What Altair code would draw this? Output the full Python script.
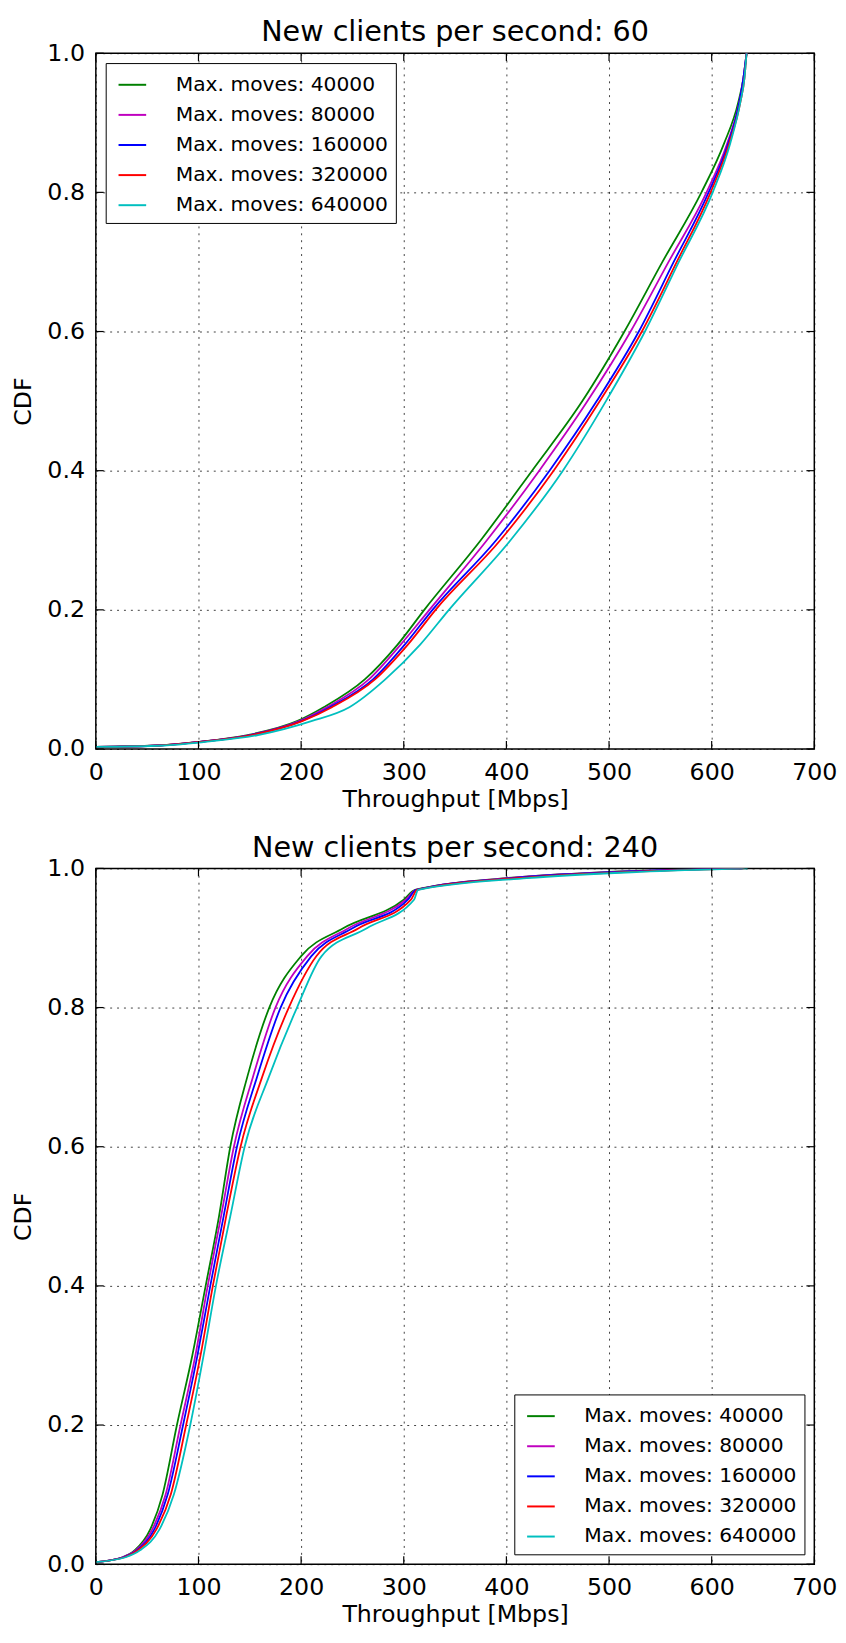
import altair as alt
import pandas as pd

# ---------------- data ----------------
series_names = ["Max. moves: 40000", "Max. moves: 80000", "Max. moves: 160000",
                "Max. moves: 320000", "Max. moves: 640000"]
series_colors = ["#008000", "#bf00bf", "#0000ff", "#ff0000", "#00bfbf"]

x_ticks = [0, 100, 200, 300, 400, 500, 600, 700]
y_ticks = [0.0, 0.2, 0.4, 0.6, 0.8, 1.0]

# Panel 1: new clients per second = 60 (throughput at given CDF levels)
cdf_60 = [0.003, 0.005, 0.01, 0.02, 0.04, 0.06, 0.10, 0.15, 0.20, 0.30, 0.40,
          0.50, 0.60, 0.70, 0.80, 0.87, 0.93, 0.965, 1.0]
thr_60_40000 = [0, 58, 98, 148, 196, 222, 262, 294, 320, 375, 425, 474, 515, 552, 590, 612, 626, 631, 634]
thr_60_80000 = [0, 60, 99, 150, 198, 225, 266, 297, 325, 381, 432, 479, 521, 558, 595, 615, 627, 631, 634]
thr_60_160000 = [0, 62, 100, 151, 200, 228, 270, 301, 328, 390, 442, 488, 529, 563, 597, 616, 627, 631, 634]
thr_60_320000 = [0, 62, 101, 152, 201, 230, 272, 304, 331, 394, 446, 491, 532, 566, 599, 617, 628, 632, 634]
thr_60_640000 = [0, 66, 105, 158, 210, 247, 282, 316, 344, 404, 455, 497, 535, 568, 601, 618, 628, 632, 634]

# Panel 2: new clients per second = 240
cdf_240 = [0.003, 0.01, 0.02, 0.05, 0.10, 0.20, 0.30, 0.40, 0.50, 0.60, 0.70,
           0.80, 0.874, 0.914, 0.955, 0.969, 0.986, 0.995, 1.0]
thr_240_40000 = [0, 26, 38, 53, 65, 79, 94, 107, 120, 131, 147.5, 169, 200, 241, 300, 311, 400, 500, 630]
thr_240_80000 = [0, 26, 39, 55, 68, 82.5, 97, 109, 122, 134.5, 153, 175, 206, 246, 302, 312, 402, 505, 630]
thr_240_160000 = [0, 27, 40, 57, 70, 85, 99, 111.5, 124.5, 137.5, 157, 180, 210, 250, 304, 312, 405, 510, 630]
thr_240_320000 = [0, 28, 41, 59, 73, 88, 102, 114, 127, 141, 162, 188, 215, 256, 307, 313, 410, 520, 632]
thr_240_640000 = [0, 29, 43, 62, 76, 92, 105, 117, 131, 145, 168.5, 196, 220, 264, 310, 314, 420, 530, 635]

titles = ["New clients per second: 60", "New clients per second: 240"]

FONT = "DejaVu Sans"
W, H = 728, 705
TICK = 8


def make_df(cdf, series_lists):
    rows = []
    for name, vals in zip(series_names, series_lists):
        for c, t in zip(cdf, vals):
            rows.append({"series": name, "thr": t, "cdf": c})
    return pd.DataFrame(rows)


df60 = make_df(cdf_60, [thr_60_40000, thr_60_80000, thr_60_160000, thr_60_320000, thr_60_640000])
df240 = make_df(cdf_240, [thr_240_40000, thr_240_80000, thr_240_160000, thr_240_320000, thr_240_640000])

xt_df = pd.DataFrame({"thr": x_ticks})
yt_df = pd.DataFrame({"cdf": y_ticks})

xscale = alt.Scale(domain=[0, 700], nice=False, zero=False)
yscale = alt.Scale(domain=[0, 1], nice=False)
xaxis = alt.Axis(values=x_ticks, title="Throughput [Mbps]", grid=True,
                 labelFlush=False, titlePadding=4)
yaxis = alt.Axis(values=y_ticks, format=".1f", title="CDF", grid=True,
                 labelFlush=False, titlePadding=12)


def panel(df, title, orient):
    lines = alt.Chart(df).mark_line(strokeWidth=1.8, clip=True, interpolate="monotone").encode(
        x=alt.X("thr:Q", scale=xscale, axis=xaxis),
        y=alt.Y("cdf:Q", scale=yscale, axis=yaxis),
        color=alt.Color("series:N",
                        scale=alt.Scale(domain=series_names, range=series_colors),
                        sort=series_names,
                        legend=alt.Legend(title=None, orient=orient, offset=10,
                                          symbolType="stroke", symbolSize=784,
                                          symbolStrokeWidth=2, symbolOffset=5,
                                          labelFont=FONT,
                                          labelFontSize=20.5, labelColor="black",
                                          labelOffset=29, labelLimit=400,
                                          rowPadding=4.5, padding=7,
                                          strokeColor="black", fillColor="white",
                                          cornerRadius=0)),
        order=alt.Order("cdf:Q"),
    )
    xb = alt.Chart(xt_df).mark_rule(color="black", strokeWidth=1.2).encode(
        x=alt.X("thr:Q", scale=xscale, axis=xaxis), y=alt.value(H), y2=alt.value(H - TICK))
    xtop = alt.Chart(xt_df).mark_rule(color="black", strokeWidth=1.2).encode(
        x=alt.X("thr:Q", scale=xscale, axis=xaxis), y=alt.value(0), y2=alt.value(TICK))
    yl = alt.Chart(yt_df).mark_rule(color="black", strokeWidth=1.2).encode(
        y=alt.Y("cdf:Q", scale=yscale, axis=yaxis), x=alt.value(0), x2=alt.value(TICK))
    yr = alt.Chart(yt_df).mark_rule(color="black", strokeWidth=1.2).encode(
        y=alt.Y("cdf:Q", scale=yscale, axis=yaxis), x=alt.value(W), x2=alt.value(W - TICK))
    return alt.layer(lines, xb, xtop, yl, yr).properties(
        width=W, height=H, title=alt.TitleParams(title, frame="group"))


chart = alt.vconcat(
    panel(df60, titles[0], "top-left"),
    panel(df240, titles[1], "bottom-right"),
    spacing=20,
).resolve_legend(color="independent").resolve_scale(color="independent").properties(
    padding={"left": 2, "top": -1, "right": 0, "bottom": 0}
).configure_axis(
    labelFont=FONT, labelFontSize=24, labelColor="black",
    titleFont=FONT, titleFontSize=24, titleFontWeight="normal", titleColor="black",
    domain=False, ticks=False, labelPadding=11.5,
    gridColor="black", gridDash=[2, 5], gridWidth=1, gridOpacity=0.75,
).configure_view(
    stroke="black", strokeWidth=1.5
).configure_title(
    font=FONT, fontSize=29, fontWeight="normal", color="black", offset=-6
)

chart.save("out.html", embed_options={"renderer": "svg", "actions": False})
